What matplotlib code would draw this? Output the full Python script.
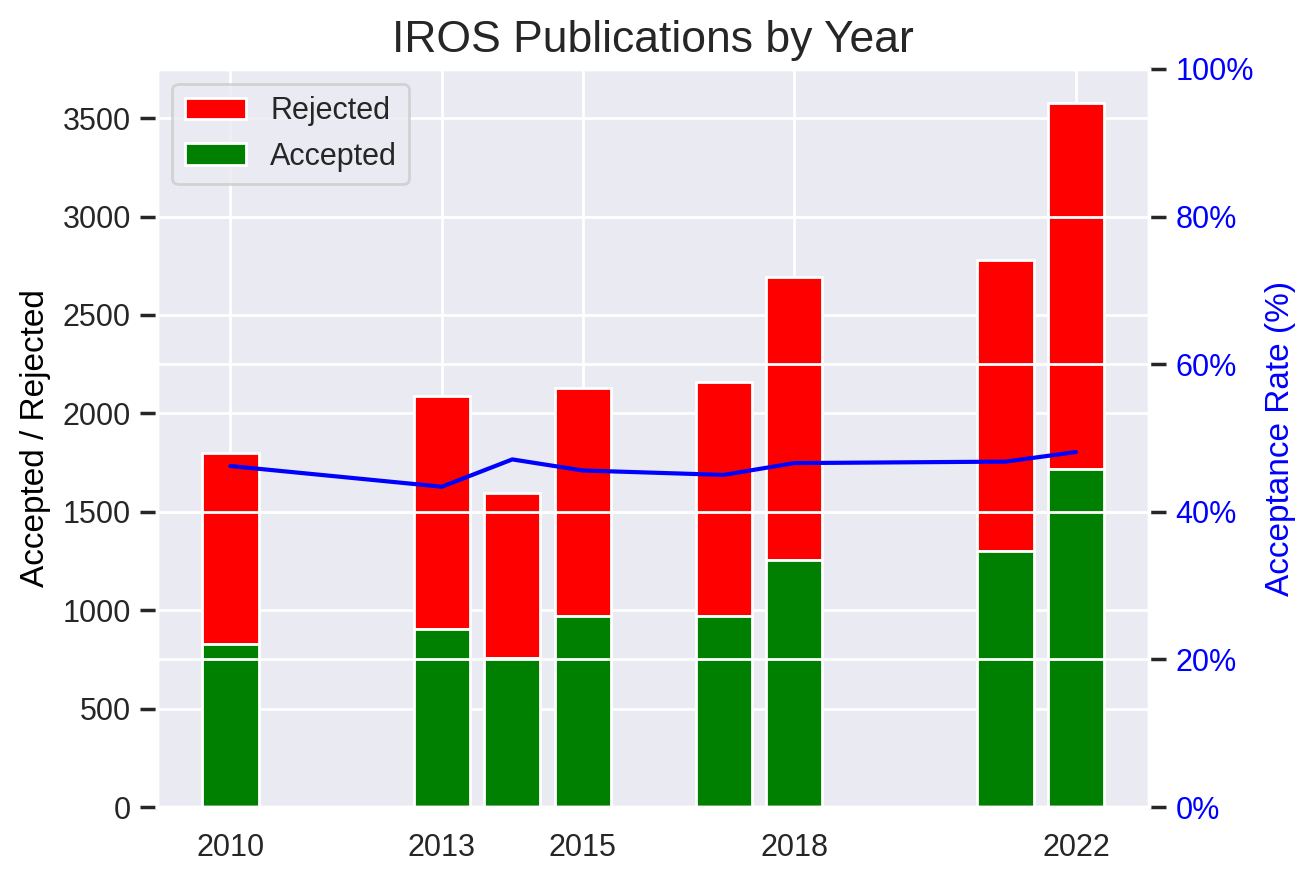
import numpy as np
import matplotlib.pyplot as plt
import seaborn as sns
from matplotlib.ticker import PercentFormatter

sns.set_theme(style="darkgrid")
plt.rcParams['font.family'] = ['Liberation Sans', 'DejaVu Sans']

# data
years = [2010, 2013, 2014, 2015, 2017, 2018, 2021, 2022]
accepted = [830, 905, 755, 970, 970, 1255, 1300, 1715]
submitted = [1800, 2090, 1595, 2130, 2160, 2695, 2780, 3575]
accept_rate = [46.2, 43.4, 47.1, 45.6, 45.0, 46.6, 46.8, 48.1]
tick_years = [2010, 2013, 2015, 2018, 2022]

rejected = [s - a for s, a in zip(submitted, accepted)]

fig = plt.figure(figsize=(6.575, 4.41), dpi=200)
ax1 = fig.add_axes([0.1195, 0.085, 0.7545, 0.8368])

ax1.bar(years, rejected, bottom=accepted, color='red', label='Rejected')
ax1.bar(years, accepted, color='green', label='Accepted')
ax1.set_xticks(tick_years)
ax1.set_ylim(0, 3750)
ax1.set_yticks(np.arange(0, 3501, 500))
ax1.set_ylabel('Accepted / Rejected', fontsize=12, color='black')
ax1.tick_params(axis='y', left=True, labelsize=11)
ax1.tick_params(axis='x', labelsize=11)
ax1.set_title('IROS Publications by Year', fontsize=16)
ax1.legend(loc='upper left', fontsize=11)

ax2 = ax1.twinx()
ax2.plot(years, accept_rate, color='blue', linewidth=1.5)
ax2.set_ylim(0, 100)
ax2.set_yticks(np.arange(0, 101, 20))
ax2.yaxis.set_major_formatter(PercentFormatter(100, decimals=0))
ax2.set_ylabel('Acceptance Rate (%)', fontsize=12, color='blue')
ax2.tick_params(axis='y', right=True, labelsize=11, labelcolor='blue')

fig.savefig('out.png', dpi=200)
